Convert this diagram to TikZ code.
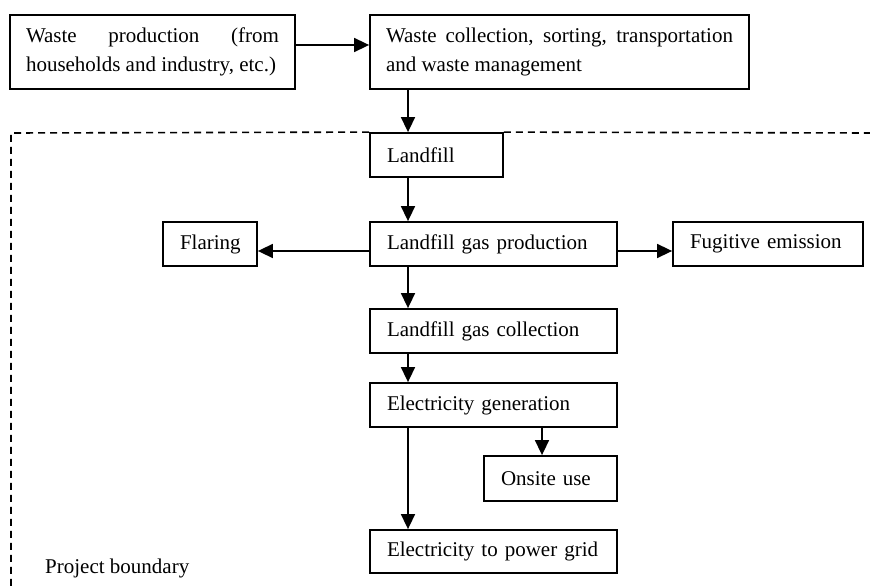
\documentclass[tikz,border=0pt]{standalone}
\usepackage{fontspec}
\setmainfont{Liberation Serif}
\usetikzlibrary{arrows.meta}
\begin{document}
\begin{tikzpicture}[x=1pt,y=1pt,
  box/.style={draw, line width=1.8pt, inner xsep=17pt, inner ysep=0pt,
    align=left, minimum height=44pt, font=\fontsize{21}{29}\selectfont},
  wide/.style={box, align=justify, minimum height=74pt, inner xsep=16pt},
  arr/.style={line width=1.6pt, -{Triangle[length=15pt,width=14pt]}},
  bound/.style={line width=1.6pt, dash pattern=on 7pt off 5pt}]
\useasboundingbox (0,0) rectangle (870,587);

% upstream boxes
\node[wide, text width=253pt] (prod) at (152.5,535)
  {Waste production (from households and industry, etc.)};
\node[wide, text width=347pt] (coll) at (559.5,535)
  {Waste collection, sorting, transportation and waste management};

% main column
\node[box, text width=99pt]  (lf)   at (436.5,432) {Landfill};
\node[box, text width=213pt] (lgp)  at (493.5,343) {Landfill gas production};
\node[box, text width=60pt]  (flare) at (210,343) {Flaring};
\node[box, text width=156pt] (fug)  at (768,343) {Fugitive emission};
\node[box, text width=213pt] (lgc)  at (493.5,256) {Landfill gas collection};
\node[box, text width=213pt] (eg)   at (493.5,182) {Electricity generation};
\node[box, text width=99pt, minimum height=45pt] (on) at (550.5,108.5) {Onsite use};
\node[box, text width=213pt, minimum height=43pt] (grid) at (493.5,35.5) {Electricity to power grid};

% project boundary (dashed)
\draw[bound] (lf.north west) -- (11,454) -- (11,0);
\draw[bound] (lf.north east) -- (870,454);
\node[anchor=base west, inner sep=0pt, font=\fontsize{21}{29}\selectfont] (pb) at (45,14) {Project boundary};

% helper coordinates for connector positions
\coordinate (cx) at (408,0);
\coordinate (cx2) at (542,0);
\coordinate (ya) at (0,542);
\coordinate (yb) at (0,336);

% connectors
\draw[arr] (prod.east |- ya) -- (coll.west |- ya);
\draw[arr] (coll.south -| cx) -- (lf.north -| cx);
\draw[arr] (lf.south -| cx) -- (lgp.north -| cx);
\draw[arr] (lgp.west |- yb) -- (flare.east |- yb);
\draw[arr] (lgp.east |- yb) -- (fug.west |- yb);
\draw[arr] (lgp.south -| cx) -- (lgc.north -| cx);
\draw[arr] (lgc.south -| cx) -- (eg.north -| cx);
\draw[arr] (eg.south -| cx2) -- (on.north -| cx2);
\draw[arr] (eg.south -| cx) -- (grid.north -| cx);
\end{tikzpicture}
\end{document}
